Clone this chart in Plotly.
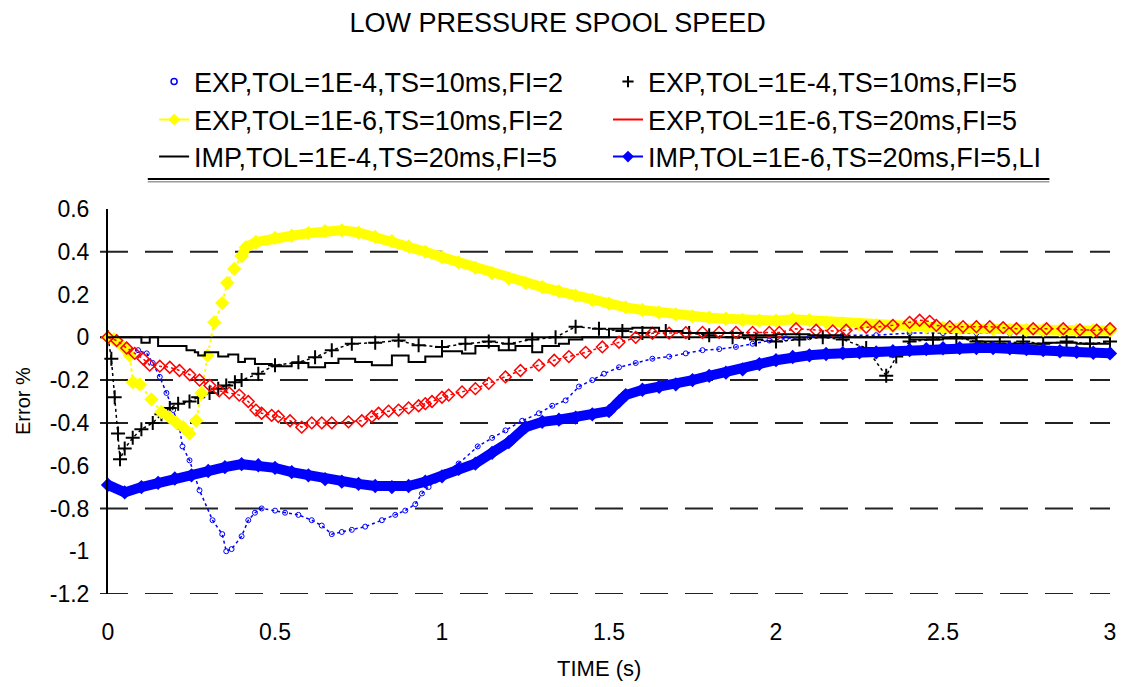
import plotly.graph_objects as go

FONT = "Liberation Sans, Arial, sans-serif"

TITLE = "LOW PRESSURE SPOOL SPEED"
X_TITLE = "TIME (s)"
Y_TITLE = "Error %"
X_TICKS = [0, 0.5, 1, 1.5, 2, 2.5, 3]
X_TICK_TEXT = ["0", "0.5", "1", "1.5", "2", "2.5", "3"]
Y_TICKS = [0.6, 0.4, 0.2, 0, -0.2, -0.4, -0.6, -0.8, -1, -1.2]
Y_TICK_TEXT = ["0.6", "0.4", "0.2", "0", "-0.2", "-0.4", "-0.6", "-0.8", "-1", "-1.2"]
GRID_Y = [0.4, -0.2, -0.4, -0.8, -1.2]

NAMES = [
    "EXP,TOL=1E-4,TS=10ms,FI=2",
    "EXP,TOL=1E-4,TS=10ms,FI=5",
    "EXP,TOL=1E-6,TS=10ms,FI=2",
    "EXP,TOL=1E-6,TS=20ms,FI=5",
    "IMP,TOL=1E-4,TS=20ms,FI=5",
    "IMP,TOL=1E-6,TS=20ms,FI=5,LI",
]

# 1: EXP,TOL=1E-4,TS=10ms,FI=2 (blue dotted)
t_exp4_fi2 = [0, 0.03, 0.056, 0.09, 0.116, 0.134, 0.155, 0.175, 0.195, 0.214,
              0.223, 0.244, 0.274, 0.313, 0.342, 0.354, 0.37, 0.40, 0.42, 0.44,
              0.46, 0.50, 0.53, 0.57, 0.61, 0.64, 0.67, 0.70, 0.73, 0.77,
              0.82, 0.86, 0.89, 0.92, 0.94, 0.96, 0.98, 1.01, 1.05, 1.107,
              1.15, 1.19, 1.24, 1.29, 1.33, 1.37, 1.41, 1.45, 1.485, 1.53,
              1.58, 1.63, 1.68, 1.73, 1.78, 1.83, 1.88, 1.93, 1.98, 2.03,
              2.1, 2.2, 2.3, 2.4, 2.5, 2.6, 2.7, 2.8, 2.9, 3.0]
v_exp4_fi2 = [0, -0.02, -0.045, -0.06, -0.075, -0.12, -0.185, -0.26, -0.34, -0.42,
              -0.51, -0.575, -0.715, -0.855, -0.92, -1.0, -0.99, -0.93, -0.855, -0.82,
              -0.80, -0.81, -0.82, -0.83, -0.855, -0.88, -0.92, -0.91, -0.90, -0.885,
              -0.855, -0.83, -0.81, -0.78, -0.73, -0.70, -0.67, -0.63, -0.59, -0.51,
              -0.47, -0.435, -0.39, -0.355, -0.32, -0.295, -0.23, -0.2, -0.17, -0.14,
              -0.12, -0.10, -0.09, -0.075, -0.06, -0.055, -0.045, -0.03, -0.015, -0.005,
              0.0, 0.01, 0.01, 0.02, 0.02, 0.02, 0.02, 0.02, 0.02, 0.02]

# 2: EXP,TOL=1E-4,TS=10ms,FI=5 (black dotted with cross markers)
t_exp4_fi5 = [0, 0.01, 0.02, 0.03, 0.036, 0.05, 0.074, 0.1, 0.134, 0.16,
              0.185, 0.21, 0.244, 0.27, 0.304, 0.33, 0.354, 0.38, 0.40, 0.45,
              0.50, 0.57, 0.62, 0.67, 0.73, 0.80, 0.87, 0.93, 1.0, 1.07,
              1.14, 1.2, 1.27, 1.34, 1.4, 1.47, 1.54, 1.6, 1.67, 1.74,
              1.8, 1.87, 1.94, 2.0, 2.07, 2.14, 2.2, 2.27, 2.33, 2.36,
              2.4, 2.47, 2.54, 2.6, 2.67, 2.74, 2.8, 2.87, 2.94, 3.0]
v_exp4_fi5 = [0, -0.1, -0.28, -0.45, -0.57, -0.52, -0.47, -0.43, -0.40, -0.36,
              -0.33, -0.31, -0.30, -0.28, -0.26, -0.24, -0.225, -0.21, -0.20, -0.17,
              -0.13, -0.117, -0.093, -0.06, -0.03, -0.025, -0.015, -0.037, -0.045, -0.03,
              -0.02, -0.03, -0.01, 0.0, 0.05, 0.04, 0.03, 0.02, 0.03, 0.02,
              0.01, 0.0, -0.01, -0.02, -0.01, 0.0, -0.01, -0.05, -0.18, -0.09,
              -0.02, -0.01, 0.0, -0.02, -0.03, -0.02, -0.03, -0.02, -0.03, -0.02]

# 3: EXP,TOL=1E-6,TS=10ms,FI=2 (yellow diamonds)
t_exp6_fi2 = [0, 0.018, 0.036, 0.05, 0.065, 0.075, 0.095, 0.13, 0.16, 0.185,
              0.205, 0.225, 0.244, 0.264, 0.28, 0.298, 0.318, 0.342, 0.357, 0.378,
              0.40, 0.413, 0.443,
              0.5, 0.55, 0.6, 0.65, 0.7, 0.75, 0.8, 0.85, 0.9, 0.95,
              1.0, 1.05, 1.1, 1.15, 1.2, 1.25, 1.3, 1.35, 1.4, 1.45,
              1.5, 1.55, 1.6, 1.65, 1.7, 1.75, 1.8, 1.85, 1.9, 1.95,
              2.0, 2.05, 2.1, 2.15, 2.2, 2.25, 2.3, 2.35, 2.4, 2.45,
              2.5, 2.55, 2.6, 2.65, 2.7, 2.75, 2.8, 2.85, 2.9, 2.95, 3.0]
v_exp6_fi2 = [0, -0.01, -0.03, -0.05, -0.085, -0.21, -0.22, -0.29, -0.35, -0.375,
              -0.40, -0.42, -0.45, -0.39, -0.26, -0.085, 0.07, 0.16, 0.255, 0.32,
              0.38, 0.42, 0.445,
              0.465, 0.475, 0.487, 0.497, 0.50, 0.49, 0.47, 0.45, 0.425, 0.40,
              0.375, 0.35, 0.325, 0.30, 0.275, 0.255, 0.235, 0.215, 0.195, 0.175,
              0.158, 0.14, 0.128, 0.117, 0.107, 0.098, 0.092, 0.087, 0.082, 0.078,
              0.078, 0.085, 0.08, 0.07, 0.065, 0.06, 0.057, 0.053, 0.05, 0.047,
              0.045, 0.043, 0.04, 0.038, 0.036, 0.035, 0.034, 0.033, 0.033, 0.032, 0.032]

# 4: EXP,TOL=1E-6,TS=20ms,FI=5 (red open diamonds)
t_exp6_fi5 = [0, 0.026, 0.056, 0.08, 0.105, 0.125, 0.155, 0.185, 0.214, 0.245,
              0.274, 0.305, 0.333, 0.363, 0.393, 0.42, 0.443, 0.46, 0.49, 0.51,
              0.545, 0.58, 0.61, 0.64, 0.67, 0.72, 0.76, 0.79, 0.81, 0.84,
              0.87, 0.90, 0.93, 0.95, 0.97, 1.0, 1.02, 1.06, 1.1, 1.14,
              1.19, 1.235, 1.29, 1.336, 1.38, 1.43, 1.48, 1.53, 1.58, 1.63,
              1.68, 1.73, 1.78, 1.83, 1.88, 1.93, 1.98, 2.01, 2.06, 2.12,
              2.17, 2.21, 2.27, 2.31, 2.35, 2.4, 2.43, 2.46, 2.48, 2.52,
              2.56, 2.6, 2.64, 2.68, 2.72, 2.77, 2.81, 2.86, 2.91, 2.96, 3.0]
v_exp6_fi5 = [0, -0.015, -0.05, -0.075, -0.1, -0.13, -0.135, -0.14, -0.155, -0.175,
              -0.2, -0.225, -0.25, -0.26, -0.27, -0.3, -0.34, -0.355, -0.365, -0.37,
              -0.39, -0.42, -0.40, -0.40, -0.40, -0.395, -0.39, -0.37, -0.355, -0.345,
              -0.34, -0.33, -0.32, -0.31, -0.30, -0.28, -0.27, -0.255, -0.24, -0.215,
              -0.185, -0.155, -0.13, -0.107, -0.09, -0.07, -0.045, -0.023, 0.0, 0.019,
              0.02, 0.022, 0.023, 0.023, 0.023, 0.023, 0.023, 0.023, 0.04, 0.033,
              0.03, 0.033, 0.047, 0.05, 0.056, 0.07, 0.08, 0.075, 0.056, 0.05,
              0.05, 0.05, 0.05, 0.045, 0.04, 0.04, 0.04, 0.04, 0.035, 0.033, 0.04]

# 5: IMP,TOL=1E-4,TS=20ms,FI=5 (black solid steps)
t_imp4 = [0, 0.1, 0.125, 0.15, 0.235, 0.26, 0.27, 0.29, 0.33, 0.36,
          0.39, 0.41, 0.44, 0.49, 0.55, 0.6, 0.65, 0.69, 0.74, 0.79,
          0.85, 0.9, 0.95, 1.0, 1.06, 1.1, 1.17, 1.22, 1.27, 1.3,
          1.35, 1.38, 1.42, 1.5, 1.57, 1.65, 1.72, 1.8, 1.9, 2.0,
          2.1, 2.2, 2.28, 2.4, 2.5, 2.6, 2.7, 2.8, 2.9, 3.0]
v_imp4 = [0, -0.025, 0, -0.04, -0.06, -0.07, -0.085, -0.07, -0.09, -0.08,
          -0.115, -0.1, -0.125, -0.135, -0.12, -0.14, -0.12, -0.10, -0.115, -0.13,
          -0.085, -0.115, -0.09, -0.065, -0.075, -0.04, -0.06, -0.04, -0.07, -0.04,
          -0.03, -0.01, 0.0, 0.04, 0.045, 0.03, 0.02, 0.02, 0.01, 0.015,
          0.01, 0.0, 0.0, -0.01, -0.005, -0.02, -0.03, -0.025, -0.03, -0.02]

# 6: IMP,TOL=1E-6,TS=20ms,FI=5,LI (blue thick)
t_imp6 = [0, 0.05, 0.1, 0.15, 0.2, 0.25, 0.3, 0.35, 0.4, 0.45,
          0.5, 0.55, 0.6, 0.65, 0.7, 0.75, 0.8, 0.85, 0.9, 0.95,
          1.0, 1.05, 1.1, 1.15, 1.2, 1.25, 1.3, 1.35, 1.4, 1.45,
          1.5, 1.53, 1.55, 1.6, 1.65, 1.7, 1.75, 1.8, 1.85, 1.9,
          1.95, 2.0, 2.05, 2.1, 2.15, 2.2, 2.25, 2.3, 2.35, 2.4,
          2.45, 2.5, 2.55, 2.6, 2.65, 2.7, 2.75, 2.8, 2.85, 2.9,
          2.95, 3.0]
v_imp6 = [-0.69, -0.725, -0.70, -0.68, -0.66, -0.645, -0.625, -0.607, -0.593, -0.598,
          -0.61, -0.63, -0.645, -0.663, -0.675, -0.685, -0.695, -0.70, -0.695, -0.675,
          -0.65, -0.615, -0.59, -0.54, -0.49, -0.42, -0.395, -0.385, -0.375, -0.36,
          -0.345, -0.30, -0.27, -0.245, -0.232, -0.22, -0.2, -0.18, -0.165, -0.15,
          -0.125, -0.107, -0.092, -0.084, -0.078, -0.074, -0.07, -0.07, -0.065, -0.06,
          -0.055, -0.051, -0.05, -0.05, -0.05, -0.051, -0.055, -0.06, -0.065, -0.068,
          -0.072, -0.075]

BLUE = "#0000FF"
YELLOW = "#FFFF00"
RED = "#FF0000"
BLACK = "#000000"

fig = go.Figure()

fig.add_trace(go.Scatter(
    x=t_exp4_fi2, y=v_exp4_fi2, mode="lines+markers", showlegend=False, cliponaxis=False,
    line=dict(color=BLUE, width=1.5, dash="dot"),
    marker=dict(symbol="circle-open", size=5, color=BLUE, line=dict(width=1, color=BLUE))))

fig.add_trace(go.Scatter(
    x=t_exp4_fi5, y=v_exp4_fi5, mode="lines+markers", showlegend=False, cliponaxis=False,
    line=dict(color=BLACK, width=1.5, dash="dot"),
    marker=dict(symbol="cross-thin-open", size=10, color=BLACK, line=dict(width=2, color=BLACK))))

N_EARLY = 23
fig.add_trace(go.Scatter(
    x=t_exp6_fi2[:N_EARLY], y=v_exp6_fi2[:N_EARLY], mode="lines+markers", showlegend=False,
    cliponaxis=False, line=dict(color=YELLOW, width=2, dash="dot"),
    marker=dict(symbol="diamond", size=11, color=YELLOW)))
fig.add_trace(go.Scatter(
    x=t_exp6_fi2[N_EARLY - 3:], y=v_exp6_fi2[N_EARLY - 3:], mode="lines+markers",
    showlegend=False, cliponaxis=False, line=dict(color=YELLOW, width=10),
    marker=dict(symbol="diamond", size=11, color=YELLOW)))

fig.add_trace(go.Scatter(
    x=t_exp6_fi5, y=v_exp6_fi5, mode="lines+markers", showlegend=False, cliponaxis=False,
    line=dict(color=RED, width=1.5, dash="dot"),
    marker=dict(symbol="diamond-open", size=9, color=RED, line=dict(width=1.5, color=RED))))

fig.add_trace(go.Scatter(
    x=t_imp4, y=v_imp4, mode="lines", showlegend=False, cliponaxis=False,
    line=dict(color=BLACK, width=2, shape="hv")))

fig.add_trace(go.Scatter(
    x=t_imp6, y=v_imp6, mode="lines+markers", showlegend=False, cliponaxis=False,
    line=dict(color=BLUE, width=10),
    marker=dict(symbol="diamond", size=11, color=BLUE)))

# legend entries (one legend box per entry, laid out in two columns)
LEG_STYLE = [
    dict(mode="markers", marker=dict(symbol="circle-open", size=6, color=BLUE, line=dict(width=1.5, color=BLUE))),
    dict(mode="markers", marker=dict(symbol="cross-thin-open", size=8, color=BLACK, line=dict(width=2, color=BLACK))),
    dict(mode="lines+markers", line=dict(color=YELLOW, width=2), marker=dict(symbol="diamond", size=9, color=YELLOW)),
    dict(mode="lines", line=dict(color=RED, width=2)),
    dict(mode="lines", line=dict(color=BLACK, width=2)),
    dict(mode="lines+markers", line=dict(color=BLUE, width=2), marker=dict(symbol="diamond", size=9, color=BLUE)),
]
LEG_X = [0.046, 0.499, 0.046, 0.499, 0.046, 0.499]
LEG_Y = [1.3299, 1.3299, 1.2312, 1.2312, 1.1351, 1.1351]

layout_legends = {}
for i, (name, st) in enumerate(zip(NAMES, LEG_STYLE)):
    key = "legend" if i == 0 else f"legend{i + 1}"
    fig.add_trace(go.Scatter(x=[None], y=[None], name=name, showlegend=True, legend=key, **st))
    layout_legends[key] = dict(
        x=LEG_X[i], y=LEG_Y[i], xanchor="left", yanchor="middle",
        bgcolor="rgba(0,0,0,0)", borderwidth=0,
        font=dict(family=FONT, size=27, color=BLACK))

shapes = []
for gy in GRID_Y:
    shapes.append(dict(type="line", xref="paper", yref="y", x0=-0.008, x1=1.0, y0=gy, y1=gy,
                       line=dict(color="#222222", width=2, dash="28px,17px"), layer="below"))
shapes.append(dict(type="line", xref="paper", yref="y", x0=-0.008, x1=1.0, y0=0, y1=0,
                   line=dict(color=BLACK, width=2), layer="below"))
# legend underline
shapes.append(dict(type="line", xref="paper", yref="paper", x0=0.0397, x1=0.9395, y0=1.078, y1=1.078,
                   line=dict(color=BLACK, width=2)))
shapes.append(dict(type="line", xref="paper", yref="paper", x0=0.0397, x1=0.9395, y0=1.071, y1=1.071,
                   line=dict(color="#999999", width=1.5)))

fig.update_layout(
    width=1122, height=687,
    margin=dict(l=108, r=6, t=209, b=93),
    paper_bgcolor="white", plot_bgcolor="white",
    title=dict(text=TITLE, x=0.497, xanchor="center", xref="container",
               y=1 - 22.5 / 687, yanchor="middle", yref="container",
               font=dict(family=FONT, size=27, color=BLACK)),
    xaxis=dict(range=[0, 3], tickvals=X_TICKS, ticktext=X_TICK_TEXT,
               showgrid=False, zeroline=False, showline=False, ticks="",
               ticklabelstandoff=22, ticklabeloverflow="allow",
               tickfont=dict(family=FONT, size=23, color=BLACK)),
    yaxis=dict(range=[-1.2, 0.6], tickvals=Y_TICKS, ticktext=Y_TICK_TEXT,
               showgrid=False, zeroline=False, showline=True, linecolor=BLACK, linewidth=2,
               ticks="", ticklabelstandoff=12,
               tickfont=dict(family=FONT, size=23, color=BLACK)),
    shapes=shapes,
    annotations=[
        dict(text=X_TITLE, xref="paper", yref="paper", x=0.49, y=(594 - 668) / 385,
             xanchor="center", yanchor="middle", showarrow=False,
             font=dict(family=FONT, size=22, color=BLACK)),
        dict(text=Y_TITLE, xref="paper", yref="paper", x=(22 - 108) / 1008, y=0.5,
             xanchor="center", yanchor="middle", textangle=-90, showarrow=False,
             font=dict(family=FONT, size=20, color=BLACK)),
    ],
    **layout_legends,
)

fig.write_html("out.html", config={"displayModeBar": False},
               post_script="document.body.style.margin='0';document.body.style.padding='0';")
